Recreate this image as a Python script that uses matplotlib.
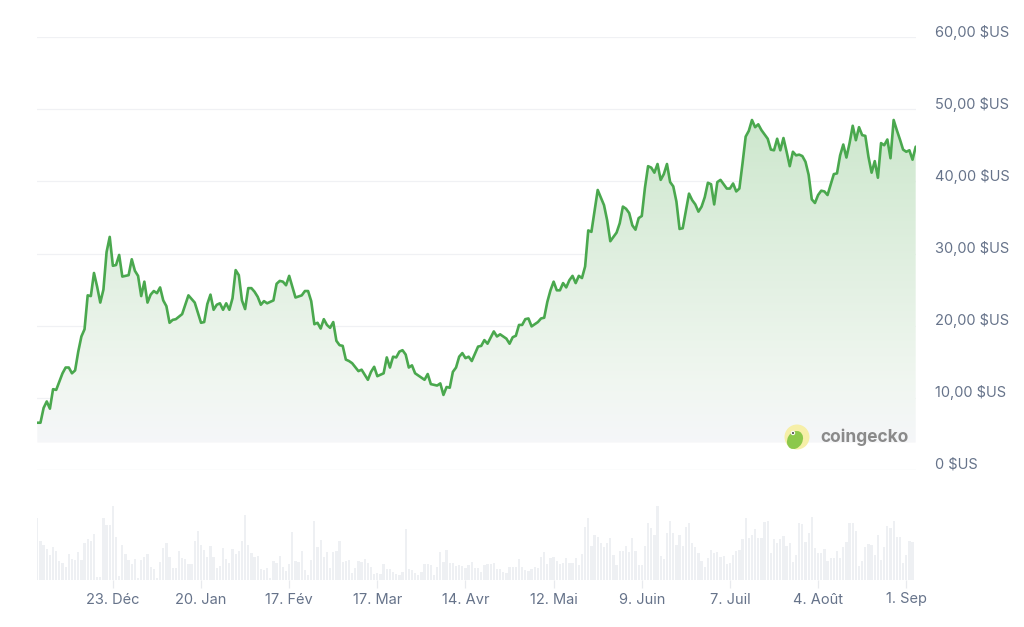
import matplotlib
matplotlib.use("Agg")
import matplotlib.pyplot as plt
import matplotlib.transforms as mtransforms
from matplotlib.colors import LinearSegmentedColormap
from matplotlib.patches import Circle, Ellipse
import numpy as np
import pandas as pd

plt.rcParams['font.family'] = ['Inter', 'DejaVu Sans']

start = pd.Timestamp("2024-11-29")

# price (USD), day offsets from start
price_day = [0, 1, 2, 3, 4, 5, 6, 8, 9, 10, 11, 12, 13, 14, 15, 16, 17, 18, 19, 20,
             21, 22, 23, 24, 25, 26, 27, 28, 29, 30, 31, 32, 33, 34, 35, 36, 37, 38, 39, 40,
             41, 42, 43, 44, 46, 48, 50, 52, 53, 54, 55, 56, 57, 58, 59, 60, 61, 62, 63, 64,
             65, 66, 67, 68, 69,
             70, 71, 72, 73, 75, 76, 77, 78, 79, 80, 81, 82, 84, 85, 86, 87, 88, 89, 90, 91,
             92, 93, 94, 95, 96, 97, 98, 99, 100, 102, 103, 105, 106, 107, 108, 110, 111, 112, 113, 114,
             115, 116, 117, 118, 119, 120, 122, 123, 124, 125, 127, 128, 129, 130, 131, 132, 133, 134, 135, 136,
             137,
             138, 140, 141, 142, 143, 145, 146, 147, 149, 150, 151, 152, 153, 154, 155, 156, 157, 159, 160, 161,
             162, 163, 164, 165, 166, 167, 168, 169, 170, 171, 172, 173, 174, 175, 176, 178, 180, 181, 182, 183,
             184, 185, 186, 187, 188, 189, 190, 191, 192, 193, 194, 195, 196, 197, 198, 199, 200, 201, 202, 203,
             204, 205,
             207, 208, 209, 210, 211, 212, 213, 214, 215, 216, 217, 219, 220, 221, 222, 223, 224, 225, 226, 227,
             228, 229, 230, 232, 233, 234, 235, 236, 237, 238, 239, 240, 241, 242, 243, 244, 245, 246, 247, 248,
             249, 250, 251, 253, 254, 255, 256, 257, 258, 259, 260, 261, 262, 263, 264, 265, 266, 267, 268, 269,
             270, 271, 272, 273, 274, 275, 276, 277, 278, 279]
price = [6.55, 6.55, 8.6, 9.5, 8.5, 11.2, 11.1, 13.4, 14.2, 14.2, 13.4, 13.8, 16.4, 18.5, 19.5, 24.2, 24.1, 27.3, 25.4, 23.2,
         25.0, 30.2, 32.3, 28.3, 28.4, 29.8, 26.8, 26.9, 27.0, 29.2, 27.6, 26.9, 24.1, 26.1, 23.2, 24.3, 24.8, 24.5, 25.3, 23.5,
         22.7, 20.4, 20.8, 20.9, 21.6, 24.2, 23.2, 20.4, 20.5, 23.0, 24.3, 22.2, 22.9, 23.1, 22.2, 23.1, 22.2, 23.8, 27.7, 27.0,
         23.5, 22.3, 25.2, 25.2, 24.7,
         24.0, 22.9, 23.4, 23.1, 23.5, 25.8, 26.2, 26.1, 25.6, 26.9, 25.4, 23.9, 24.2, 24.8, 24.8, 23.4, 20.2, 20.4, 19.6, 20.9,
         20.1, 19.7, 20.5, 17.9, 17.3, 17.2, 15.3, 15.1, 14.8, 13.7, 13.9, 12.5, 13.6, 14.3, 13.0, 13.4, 15.6, 14.2, 15.7, 15.6,
         16.4, 16.6, 16.0, 14.2, 14.5, 13.4, 12.8, 12.5, 13.3, 11.9, 11.7, 12.0, 10.4, 11.5, 11.4, 13.6, 14.2, 15.7, 16.2, 15.5,
         15.7,
         15.1, 17.1, 17.2, 18.0, 17.5, 19.2, 18.5, 18.8, 18.2, 17.5, 18.4, 18.6, 20.1, 20.1, 20.9, 21.0, 19.9, 20.5, 21.0, 21.1,
         23.3, 24.9, 26.1, 24.9, 24.9, 25.9, 25.3, 26.3, 26.9, 25.9, 26.9, 26.6, 28.2, 33.2, 33.0, 38.8, 36.7, 34.6, 31.7, 32.3,
         32.9, 34.2, 36.5, 36.2, 35.6, 33.9, 33.3, 34.9, 35.2, 39.1, 42.1, 41.9, 41.2, 42.4, 40.2, 41.0, 42.4, 39.9, 39.3, 37.2,
         33.4, 33.5,
         38.3, 37.4, 36.8, 35.8, 36.5, 37.8, 39.8, 39.6, 36.8, 39.9, 40.2, 39.0, 39.0, 39.7, 38.6, 39.0, 42.5, 46.2, 47.0, 48.5,
         47.5, 47.9, 47.1, 45.9, 44.4, 44.3, 45.9, 44.3, 46.0, 44.1, 42.1, 44.1, 43.6, 43.7, 43.5, 42.7, 40.9, 37.5, 37.0, 38.1,
         38.7, 38.6, 38.1, 41.0, 41.1, 43.6, 45.1, 43.3, 45.3, 47.7, 45.7, 47.5, 46.4, 46.3, 43.4, 41.2, 42.8, 40.5, 45.3, 45.0,
         45.8, 43.2, 48.5, 47.1, 45.8, 44.4, 44.1, 44.3, 43.0, 44.8]

# daily volume (relative units), one bar per day from start
volume = [185, 117, 105, 92, 75, 98, 87, 58, 50, 40, 77, 62, 60, 84, 59, 112, 122, 117, 137, 8,
          10, 185, 164, 164, 222, 128, 12, 105, 77, 60, 47, 62, 5, 60, 70, 78, 40, 33, 5, 54,
          95, 110, 70, 35, 35, 87, 65, 62, 47, 48, 117, 148, 105, 90, 70, 102, 68, 35, 42, 95,
          62, 52, 94, 77, 87, 117, 195, 105, 80, 70, 72, 33, 30, 35, 5, 58, 52, 72, 40, 27,
          48, 145, 58, 54, 87, 30, 15, 60, 177, 98, 120, 70, 85,
          35, 84, 87, 117, 55, 58, 60, 22, 35, 58, 55, 62, 50, 40, 18, 22, 18, 47, 33, 33,
          25, 18, 15, 25, 152, 32, 30, 22, 15, 25, 47, 47, 44, 15, 40, 83, 55, 90, 50, 50,
          42, 44, 42, 37, 45, 54, 35, 35, 25, 44, 47, 47, 50, 34, 32, 25, 22, 40, 40, 40,
          62, 40, 30, 27, 32, 40, 35, 68, 83, 47, 65, 68, 57, 47, 50, 65, 52, 50, 65, 45,
          77, 158, 185, 102, 134, 130, 112, 98, 110, 127, 75, 45, 87,
          87, 102, 84, 127, 87, 44, 44, 102, 170, 155, 135, 222, 72, 62, 140, 177, 140, 105, 134, 102,
          158, 170, 112, 98, 80, 58, 40, 67, 90, 80, 85, 70, 72, 48, 52, 75, 87, 90, 122, 185,
          127, 135, 152, 127, 127, 173, 178, 80, 122, 110, 122, 132, 102, 110, 55, 75, 170, 168, 113, 142,
          188, 95, 82, 82, 93, 58, 65, 65, 87, 65, 98, 115, 172, 172, 148, 43, 57, 100, 108, 106,
          75, 134, 60, 98, 162, 155, 177, 128, 128, 50, 75, 118, 115]

tick_dates = ["2024-12-23", "2025-01-20", "2025-02-17", "2025-03-17", "2025-04-14",
              "2025-05-12", "2025-06-09", "2025-07-07", "2025-08-04", "2025-09-01"]
tick_labels = ["23. Déc", "20. Jan", "17. Fév", "17. Mar", "14. Avr",
               "12. Mai", "9. Juin", "7. Juil", "4. Août", "1. Sep"]
y_ticks = [0, 10, 20, 30, 40, 50, 60]
y_labels = ["0 $US", "10,00 $US", "20,00 $US", "30,00 $US", "40,00 $US", "50,00 $US", "60,00 $US"]

W, H = 1024, 627
text_color = "#66738a"
line_color = "#4aa84e"

dates = start + pd.to_timedelta(price_day, unit="D")
vol_dates = start + pd.to_timedelta(np.arange(len(volume)), unit="D")
x0 = start - pd.Timedelta(days=0.1)
x1 = start + pd.Timedelta(days=279.1)

fig = plt.figure(figsize=(W / 100, H / 100), dpi=100)
fig.patch.set_facecolor("white")

ax = fig.add_axes([37 / W, (H - 470) / H, (916 - 37) / W, (470 - 37) / H])
axv = fig.add_axes([37 / W, (H - 580) / H, (916 - 37) / W, 80 / H])

# price panel
for v in y_ticks[1:]:
    ax.axhline(v, color="#f0f1f4", lw=0.9, zorder=0)
ax.axhline(0, color="#e6e8ec", lw=0.9, zorder=0)

base = 3.8
cmap = LinearSegmentedColormap.from_list(
    "fade", [(0.0, (0.962, 0.966, 0.976)), (0.2, (0.94, 0.965, 0.94)),
             (1.0, (0.80, 0.905, 0.80))])
grad = np.linspace(0, 1, 256).reshape(-1, 1)
xn0, xn1 = matplotlib.dates.date2num(x0), matplotlib.dates.date2num(x1)
im = ax.imshow(grad, extent=[xn0, xn1, base, 50], origin="lower",
               aspect="auto", cmap=cmap, zorder=1)
poly = ax.fill_between(dates, price, base, color="none", lw=0)
im.set_clip_path(poly.get_paths()[0], transform=ax.transData)

ax.plot(dates, price, color=line_color, lw=1.9, zorder=3,
        solid_joinstyle="round", solid_capstyle="round")

ax.set_xlim(x0, x1)
ax.set_ylim(0, 60)
ax.axis("off")

lab_tr = mtransforms.offset_copy(ax.get_yaxis_transform(), fig=fig, x=19, y=5, units="dots")
for v, lab in zip(y_ticks, y_labels):
    ax.text(1.0, v, lab, transform=lab_tr, ha="left", va="center",
            fontsize=10.5, color=text_color)

# watermark
fig.patches.append(Circle((797, H - 437), 12.5, transform=None, facecolor="#f6efa8",
                          edgecolor="none", zorder=5))
fig.patches.append(Ellipse((795, H - 440), 15, 19, angle=-30, transform=None,
                           facecolor="#8cc84b", edgecolor="none", zorder=6))
fig.patches.append(Circle((793, H - 433), 2.2, transform=None, facecolor="white",
                          edgecolor="none", zorder=7))
fig.patches.append(Circle((793, H - 433), 1.1, transform=None, facecolor="#555555",
                          edgecolor="none", zorder=8))
fig.text(820 / W, (H - 437) / H, "coingecko", ha="left", va="center",
         fontsize=12.5, fontweight="bold", color="#8a8a8a")

# volume panel
axv.bar(vol_dates, volume, width=0.72, color="#eef0f3", linewidth=0)
axv.set_xlim(x0, x1)
axv.set_ylim(0, 240)
for s in axv.spines.values():
    s.set_visible(False)
axv.set_yticks([])
axv.set_xticks(pd.to_datetime(tick_dates))
axv.set_xticklabels(tick_labels)
axv.tick_params(axis="x", length=6, width=0.9, color="#e8eaee", pad=3,
                labelsize=10.5, labelcolor=text_color)

fig.savefig("out.png", dpi=100, facecolor="white")
